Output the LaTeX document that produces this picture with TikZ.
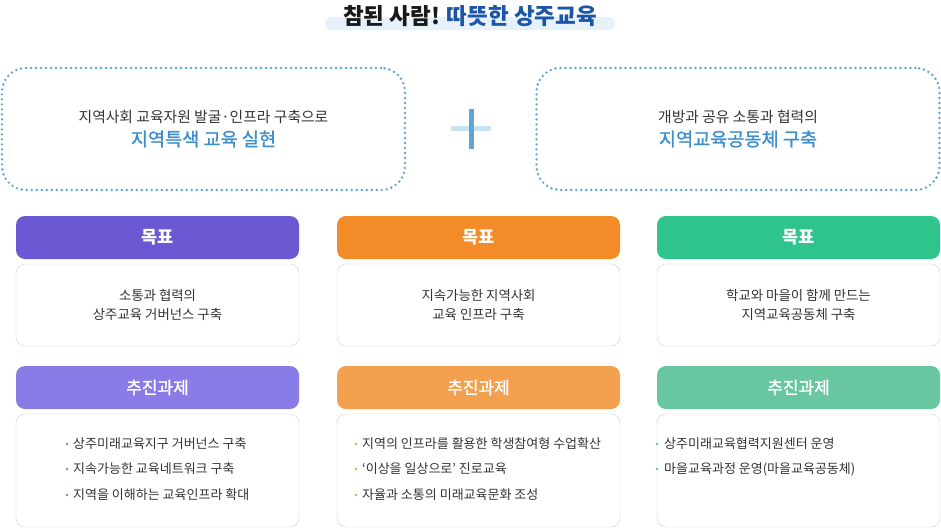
\documentclass[tikz,border=0pt]{standalone}
\usepackage{fontspec}
\setmainfont{Noto Sans CJK KR}
\newfontfamily\krsemi[FakeBold=1.2]{Noto Sans CJK KR}
\usepackage{tikz}

\definecolor{pillblue}{HTML}{E6F1FB}
\definecolor{titleblue}{HTML}{1C56A6}
\definecolor{dotblue}{HTML}{5BA3D6}
\definecolor{textblue}{HTML}{3F8FCD}
\definecolor{plusdark}{HTML}{5FA4D4}
\definecolor{pluslight}{HTML}{C9E3F3}
\definecolor{txt}{HTML}{333333}
\definecolor{edge}{HTML}{D0D0D0}
\definecolor{purpleA}{HTML}{6B59D3}
\definecolor{purpleB}{HTML}{8A7CE6}
\definecolor{orangeA}{HTML}{F38C28}
\definecolor{orangeB}{HTML}{F3A04F}
\definecolor{greenA}{HTML}{2EC48C}
\definecolor{greenB}{HTML}{68C6A1}

\begin{document}
\begin{tikzpicture}[x=1pt, y=-1pt,
    dotbox/.style={draw=dotblue, line width=2.7pt, dash pattern=on 0pt off 5pt, line cap=round,
        rounded corners=24pt, minimum width=403pt, minimum height=122pt, inner sep=0pt},
    head/.style={rounded corners=9pt, minimum width=283pt, minimum height=43pt, inner sep=0pt, text=white},
    card/.style={draw=edge, fill=white, rounded corners=9pt, minimum width=283pt, inner sep=0pt,
        align=center, text=txt, font=\fontsize{13.4}{19.5}\selectfont},
    item/.style={anchor=west, inner sep=0pt, text=txt, font=\fontsize{13}{15}\selectfont}]
    \useasboundingbox (0,0) rectangle (941,528);

    % title
    \fill[pillblue, rounded corners=6.5pt] (325,17) rectangle (615,30);
    \node[text=black!90] (title) at (470,16) {\fontsize{22.5}{25}\selectfont\bfseries 참된 사람! \textcolor{titleblue}{따뜻한 상주교육}};

    % upper boxes and plus
    \node[dotbox] (left) at (203.5,129) {};
    \node[dotbox] (right) at (738,129) {};
    \node[text=txt, font=\fontsize{14.8}{17}\selectfont] (leftA) at (203.5,117) {지역사회 교육자원 발굴·인프라 구축으로};
    \node[text=textblue, font=\fontsize{18.6}{21}\selectfont\krsemi] (leftB) at (203.5,139) {지역특색 교육 실현};
    \node[text=txt, font=\fontsize{14.8}{17}\selectfont] (rightA) at (738,117) {개방과 공유 소통과 협력의};
    \node[text=textblue, font=\fontsize{18.6}{21}\selectfont\krsemi] (rightB) at (738,139) {지역교육공동체 구축};
    \fill[pluslight] (451,126) rectangle (491,131);
    \fill[plusdark] (468.5,109) rectangle (474,149);

    % goals
    \node[head, fill=purpleA, font=\fontsize{17.5}{20}\selectfont\bfseries] (goalA) at (157.5,237.5) {목표};
    \node[head, fill=orangeA, font=\fontsize{17.5}{20}\selectfont\bfseries] (goalB) at (478.5,237.5) {목표};
    \node[head, fill=greenA, font=\fontsize{17.5}{20}\selectfont\bfseries] (goalC) at (798.5,237.5) {목표};
    \node[card, minimum height=82pt] (cardA) at (157.5,305) {소통과 협력의\\상주교육 거버넌스 구축};
    \node[card, minimum height=82pt] (cardB) at (478.5,305) {지속가능한 지역사회\\교육 인프라 구축};
    \node[card, minimum height=82pt] (cardC) at (798.5,305) {학교와 마을이 함께 만드는\\지역교육공동체 구축};

    % tasks
    \node[head, fill=purpleB, font=\fontsize{17}{20}\selectfont\krsemi] (taskA) at (157.5,387.5) {추진과제};
    \node[head, fill=orangeB, font=\fontsize{17}{20}\selectfont\krsemi] (taskB) at (478.5,387.5) {추진과제};
    \node[head, fill=greenB, font=\fontsize{17}{20}\selectfont\krsemi] (taskC) at (798.5,387.5) {추진과제};
    \node[card, minimum height=113pt] (listA) at (157.5,470.5) {};
    \node[card, minimum height=113pt] (listB) at (478.5,470.5) {};
    \node[card, minimum height=113pt] (listC) at (798.5,470.5) {};

    \fill[purpleB] (67,444) circle (1.3pt) (67,469) circle (1.3pt) (67,495) circle (1.3pt);
    \node[item] (a1) at (73,444) {상주미래교육지구 거버넌스 구축};
    \node[item] (a2) at (73,469) {지속가능한 교육네트워크 구축};
    \node[item] (a3) at (73,495) {지역을 이해하는 교육인프라 확대};

    \fill[orangeB] (356,444) circle (1.3pt) (356,469) circle (1.3pt) (356,495) circle (1.3pt);
    \node[item] (b1) at (362,444) {지역의 인프라를 활용한 학생참여형 수업확산};
    \node[item] (b2) at (362,469) {‘이상을 일상으로’ 진로교육};
    \node[item] (b3) at (362,495) {자율과 소통의 미래교육문화 조성};

    \fill[greenB] (657,444) circle (1.3pt) (657,469) circle (1.3pt);
    \node[item] (c1) at (664,444) {상주미래교육협력지원센터 운영};
    \node[item] (c2) at (664,469) {마을교육과정 운영(마을교육공동체)};
\end{tikzpicture}
\end{document}
